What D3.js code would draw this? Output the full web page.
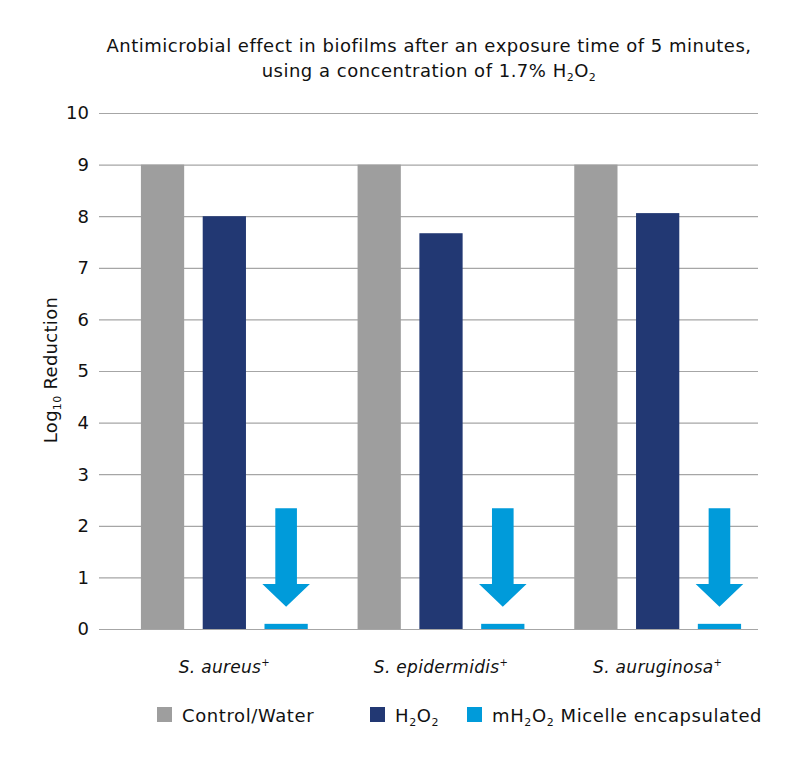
<!DOCTYPE html>
<html><head><meta charset="utf-8">
<script src="https://cdn.jsdelivr.net/npm/d3@7"></script>
<style>body{margin:0;background:#fff}svg{font-family:"DejaVu Sans",sans-serif}</style>
</head><body><svg id="c" width="800" height="760"></svg>
<script>
const categories = ["S. aureus", "S. epidermidis", "S. auruginosa"];
const seriesNames = ["Control/Water", "H2O2", "mH2O2"];
const controlValues = [9, 9, 9];
const h2o2Values = [8.0, 7.67, 8.06];
const micelleValues = [0.1, 0.1, 0.1];
const yTicks = [0,1,2,3,4,5,6,7,8,9,10];
const arrowTop = 2.34, arrowHeadBase = 0.87, arrowTip = 0.43;
const colors = ["#9e9e9e", "#223873", "#009bda"];

const svg = d3.select("#c");
const y = d3.scaleLinear().domain([0,10]).range([629,113]);
const x0 = d3.scaleBand().domain(categories).range([116,766]).paddingInner(0.23).paddingOuter(0.115);
const x1 = d3.scaleBand().domain(seriesNames).range([0, x0.bandwidth()]).paddingInner(0.3);

// gridlines
svg.append("g").selectAll("line").data(yTicks).join("line")
  .attr("x1",99).attr("x2",758).attr("y1",d=>y(d)+0.5).attr("y2",d=>y(d)+0.5)
  .attr("stroke","#a6a6a6").attr("stroke-width",1.2);
svg.append("g").selectAll("text").data(yTicks).join("text")
  .attr("x",89).attr("y",d=>y(d)).attr("dy","0.36em").attr("text-anchor","end")
  .attr("font-size",18).attr("fill","#111").text(d=>d);

const data = categories.map((c,i)=>({c, vals:[controlValues[i], h2o2Values[i], micelleValues[i]]}));
const g = svg.append("g").selectAll("g").data(data).join("g")
  .attr("transform",d=>`translate(${x0(d.c)},0)`);
g.selectAll("rect").data(d=>d.vals.map((v,j)=>({s:seriesNames[j],v,j}))).join("rect")
  .attr("x",d=>x1(d.s)).attr("width",x1.bandwidth())
  .attr("y",d=>y(d.v)).attr("height",d=>y(0)-y(d.v)).attr("fill",d=>colors[d.j]);
// arrows
g.append("path").attr("fill",colors[2]).attr("d",()=>{
  const cx = x1("mH2O2") + x1.bandwidth()/2;
  const sw = x1.bandwidth()*0.25, hw = x1.bandwidth()*0.55;
  return `M${cx-sw},${y(arrowTop)}H${cx+sw}V${y(arrowHeadBase)}H${cx+hw}L${cx},${y(arrowTip)}L${cx-hw},${y(arrowHeadBase)}H${cx-sw}Z`;
});
// x labels
const xl = svg.append("g").selectAll("text").data(categories).join("text")
  .attr("x",d=>x0(d)+x0.bandwidth()/2).attr("y",673).attr("text-anchor","middle")
  .attr("font-size",17).attr("letter-spacing",0.3).attr("font-style","italic").attr("fill","#111");
xl.append("tspan").text(d=>d);
xl.append("tspan").attr("font-size",10).attr("dy",-7).attr("font-style","normal").text("+");

// y label
const yl = svg.append("text").attr("transform","translate(57,370) rotate(-90)")
  .attr("text-anchor","middle").attr("font-size",18).attr("letter-spacing",0.3).attr("fill","#111");
yl.append("tspan").text("Log");
yl.append("tspan").attr("font-size",11).attr("dy",4).text("10");
yl.append("tspan").attr("dy",-4).text(" Reduction");

// title
const t = svg.append("text").attr("text-anchor","middle").attr("font-size",18).attr("letter-spacing",0.5).attr("fill","#111");
t.append("tspan").attr("x",429).attr("y",52).text("Antimicrobial effect in biofilms after an exposure time of 5 minutes,");
const t2 = t.append("tspan").attr("x",429).attr("y",77);
t2.append("tspan").text("using a concentration of 1.7% H");
t2.append("tspan").attr("font-size",11).attr("dy",4).text("2");
t2.append("tspan").attr("dy",-4).text("O");
t2.append("tspan").attr("font-size",11).attr("dy",4).text("2");

// legend
const legendX = [157, 370, 467];
const lg = svg.append("g").selectAll("g").data(seriesNames).join("g")
  .attr("transform",(d,i)=>`translate(${legendX[i]},707)`);
lg.append("rect").attr("width",15).attr("height",15).attr("fill",(d,i)=>colors[i]);
const lt = lg.append("text").attr("x",25).attr("y",15).attr("font-size",18).attr("letter-spacing",0.6).attr("fill","#111");
lt.each(function(d){
  const s = d3.select(this);
  if (d === "Control/Water") { s.text(d); return; }
  const pre = d === "mH2O2" ? "mH" : "H";
  s.append("tspan").text(pre);
  s.append("tspan").attr("font-size",11).attr("dy",4).text("2");
  s.append("tspan").attr("dy",-4).text("O");
  s.append("tspan").attr("font-size",11).attr("dy",4).text("2");
  if (d === "mH2O2") s.append("tspan").attr("dy",-4).text("  Micelle encapsulated");
});
</script></body></html>
